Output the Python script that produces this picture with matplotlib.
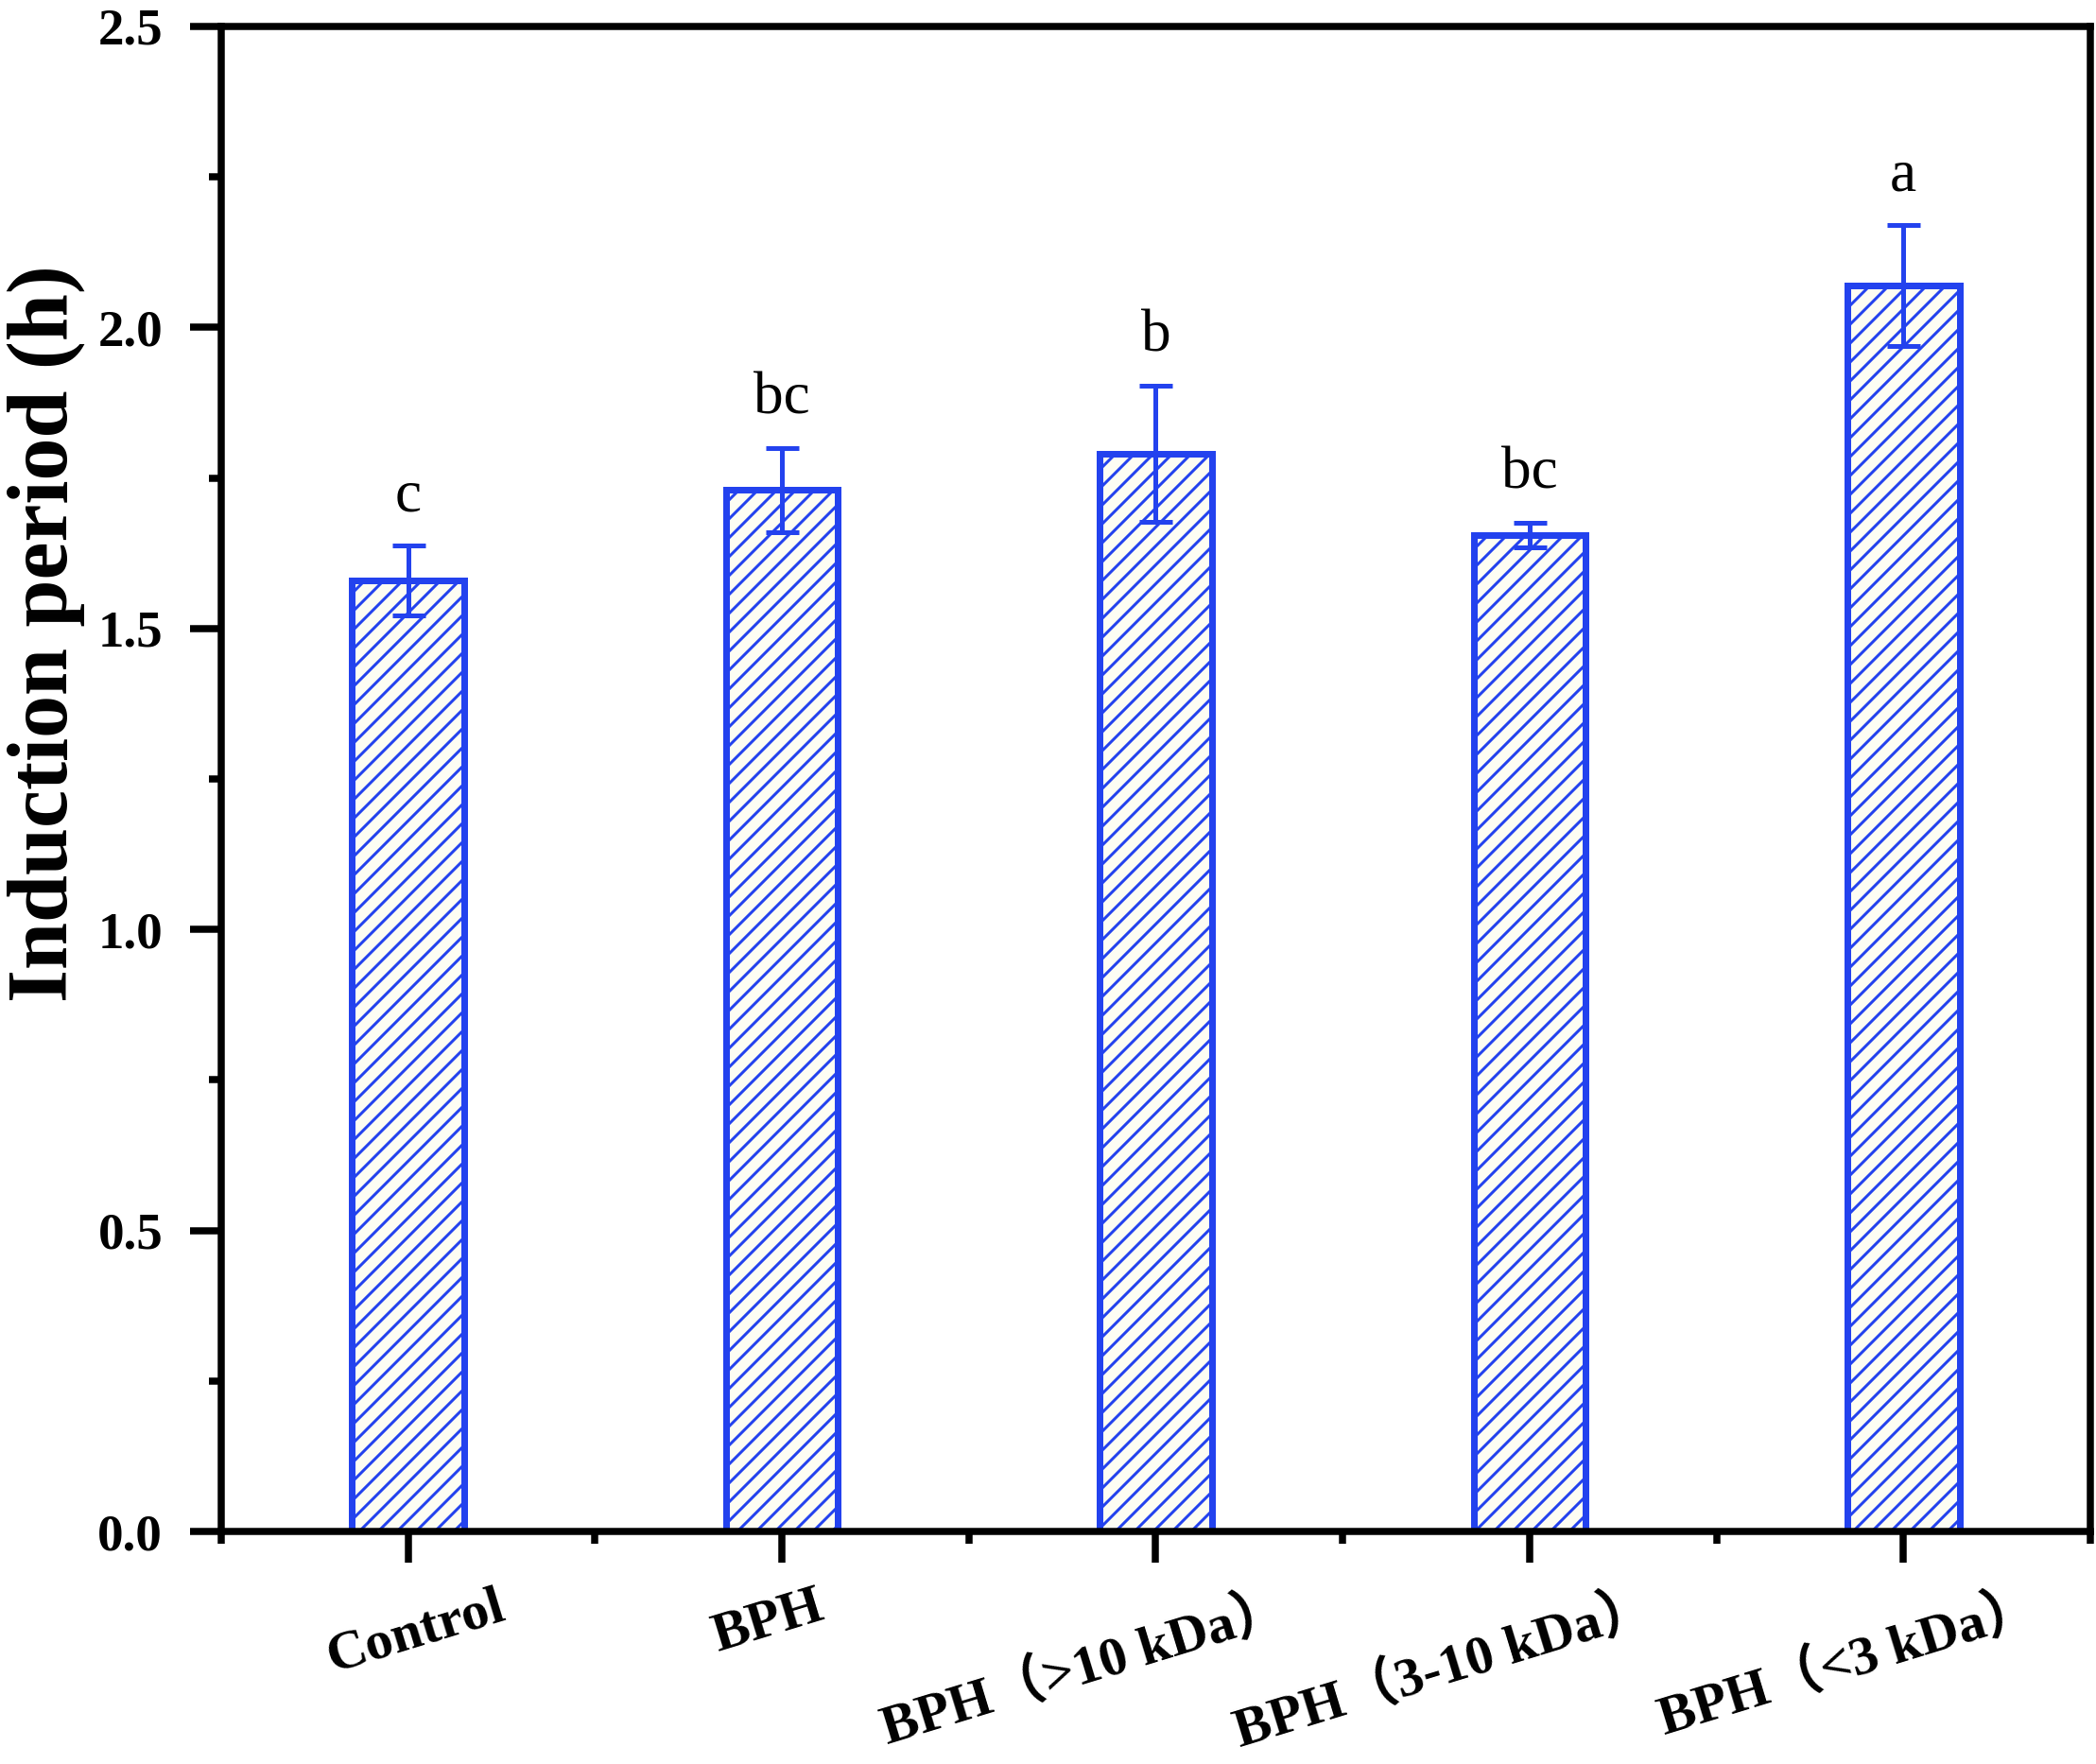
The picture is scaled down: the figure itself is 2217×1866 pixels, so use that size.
import numpy as np
import matplotlib
matplotlib.use("Agg")
import matplotlib.pyplot as plt
import matplotlib.transforms as mtransforms
from matplotlib.ticker import MultipleLocator, FormatStrFormatter

# values
groups = ["Control", "BPH", "BPH（>10 kDa）", "BPH（3-10 kDa）", "BPH（<3 kDa）"]
induction_h = [1.58, 1.73, 1.79, 1.655, 2.07]
err_h = [0.058, 0.07, 0.113, 0.02, 0.10]
letters = ["c", "bc", "b", "bc", "a"]

blue = "#2342ee"
fonts = ["Liberation Serif", "Noto Sans CJK SC", "DejaVu Sans"]
plt.rcParams['font.family'] = fonts
plt.rcParams['hatch.linewidth'] = 1.8

fig = plt.figure(figsize=(2217 / 120, 1866 / 120), dpi=120)
ax = fig.add_axes([0.1055, 0.1318, 0.8918, 0.8532])

x = np.arange(1, len(groups) + 1)
ax.bar(x, induction_h, width=0.3, facecolor="#fdfdf3", edgecolor=blue,
       linewidth=4.2, hatch="//", zorder=2)
ax.errorbar(x, induction_h, yerr=err_h, fmt='none', ecolor=blue,
            elinewidth=3, capsize=10.5, capthick=3, zorder=3)

for xi, m, e, lab in zip(x, induction_h, err_h, letters):
    ax.annotate(lab, (xi, m + e), xytext=(0, 22), textcoords='offset points',
                ha='center', va='baseline', fontsize=38)

ax.set_xlim(0.5, 5.5)
ax.set_ylim(0, 2.5)
ax.yaxis.set_major_locator(MultipleLocator(0.5))
ax.yaxis.set_minor_locator(MultipleLocator(0.25))
ax.yaxis.set_major_formatter(FormatStrFormatter('%.1f'))
ax.set_xticks(x)
ax.xaxis.set_minor_locator(MultipleLocator(0.5))

for s in ax.spines.values():
    s.set_linewidth(4.5)
ax.tick_params(which='major', direction='out', length=20, width=4.5, pad=12)
ax.tick_params(axis='y', which='major', pad=17)
ax.tick_params(which='minor', direction='out', length=8, width=4.5)
ax.tick_params(top=False, right=False, which='both')

ax.set_xticklabels(groups, rotation=17, ha='center', fontsize=35,
                   fontweight='bold')
# nudge the rotated labels the way the original layout sits them
label_dx = [5, -9, -45, -54, -35]
label_dy = [0, 0, 1, 2, 2]
for t, dx, dy in zip(ax.get_xticklabels(), label_dx, label_dy):
    t.set_transform(t.get_transform() +
                    mtransforms.ScaledTranslation(dx / 72, dy / 72, fig.dpi_scale_trans))
for t in ax.get_yticklabels():
    t.set_fontsize(33)
    t.set_fontweight('bold')

ax.set_ylabel("Induction period (h)", fontsize=54, fontweight='bold')
ax.yaxis.set_label_coords(-0.073, 0.597)

fig.savefig("out.png", dpi=120)
